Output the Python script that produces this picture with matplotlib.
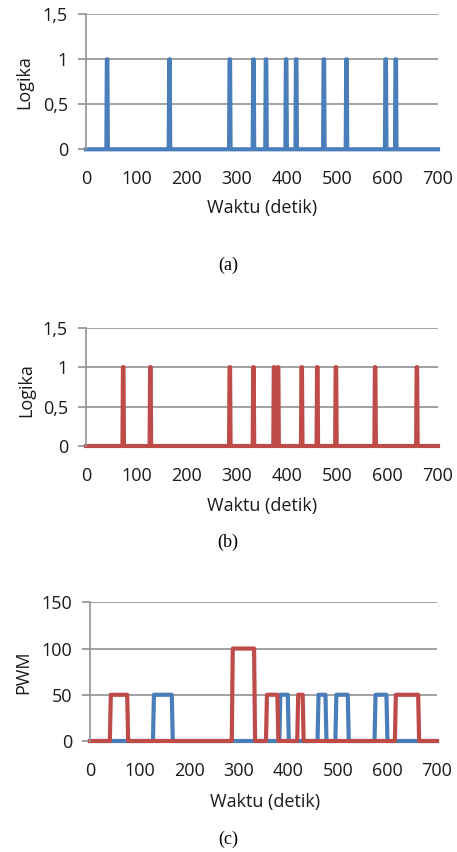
import matplotlib
matplotlib.use("Agg")
import matplotlib.pyplot as plt
from matplotlib.ticker import FuncFormatter

plt.rcParams['font.family'] = ['Open Sans', 'DejaVu Sans']

BLUE = '#4A7EBB'
RED = '#BE4B48'
GRID = '#9A9A9A'

# (a) times of the logic-1 pulses, (b) likewise
a_spikes = [42, 166, 286, 333, 358, 398, 418, 473, 518, 596, 616]
b_spikes = [74, 128, 286, 333, 374, 382, 429, 460, 497, 575, 658]

# (c) PWM pulses: start, end, level
red_on = [40, 286, 355, 418, 615]
red_off = [75, 331, 378, 429, 662]
red_level = [50, 100, 50, 50, 50]
blue_on = [127, 382, 459, 495, 574]
blue_off = [165, 399, 475, 520, 598]
blue_level = [50, 50, 50, 50, 50]

t_end = 700
x_ticks = [0, 100, 200, 300, 400, 500, 600, 700]
logic_ticks = [0, 0.5, 1, 1.5]
pwm_ticks = [0, 50, 100, 150]

FS = 13


def pulses(ons, offs, levels, ramp):
    xs, ys = [0], [0]
    for a, b, lv in zip(ons, offs, levels):
        xs += [a, a + ramp, b, b + ramp]
        ys += [0, lv, lv, 0]
    xs.append(t_end)
    ys.append(0)
    return xs, ys


W, H = 457, 852
fig = plt.figure(figsize=(W / 100, H / 100), dpi=100)


def axes_px(left, right, top, bottom):
    return fig.add_axes([left / W, 1 - bottom / H, (right - left) / W, (bottom - top) / H])


def style(ax, yticks, fmt):
    ax.set_xlim(0, t_end)
    ax.set_ylim(yticks[0], yticks[-1])
    ax.set_xticks(x_ticks)
    ax.set_yticks(yticks)
    ax.yaxis.set_major_formatter(FuncFormatter(fmt))
    for s in ['top', 'right', 'bottom']:
        ax.spines[s].set_visible(False)
    ax.spines['left'].set_color(GRID)
    ax.spines['left'].set_linewidth(1.3)
    ax.grid(axis='y', color=GRID, lw=1.3)
    ax.set_axisbelow(True)
    ax.tick_params(axis='y', length=6, width=1.3, color=GRID, pad=7, labelsize=FS)
    ax.tick_params(axis='x', length=0, pad=15, labelsize=FS)
    for lab in ax.get_xticklabels() + ax.get_yticklabels():
        lab.set_color('#1a1a1a')


def logic_fmt(v, pos):
    return ('%g' % v).replace('.', ',')


def pwm_fmt(v, pos):
    return '%d' % v


def ftext(x, y, s, **kw):
    fig.text(x / W, 1 - y / H, s, ha='center', va='center', **kw)


# (a)
ax1 = axes_px(86, 438, 14.3, 149.3)
xs, ys = pulses([t - 1.5 for t in a_spikes], [t + 0.5 for t in a_spikes], [1] * len(a_spikes), 1)
ax1.plot(xs, ys, color=BLUE, lw=3, solid_joinstyle='round', clip_on=False)
style(ax1, logic_ticks, logic_fmt)
ftext(24, 82, 'Logika', fontsize=FS, rotation=90, color='#1a1a1a')
ftext(262, 208, 'Waktu (detik)', fontsize=FS, color='#1a1a1a')
ftext(228, 265, '(a)', fontsize=13, family='Liberation Serif')

# (b)
ax2 = axes_px(86, 438, 327.7, 446)
xs, ys = pulses([t - 1.5 for t in b_spikes], [t + 0.5 for t in b_spikes], [1] * len(b_spikes), 1)
ax2.plot(xs, ys, color=RED, lw=3, solid_joinstyle='round', clip_on=False)
style(ax2, logic_ticks, logic_fmt)
ftext(26, 390, 'Logika', fontsize=FS, rotation=90, color='#1a1a1a')
ftext(262, 506, 'Waktu (detik)', fontsize=FS, color='#1a1a1a')
ftext(228, 542, '(b)', fontsize=13, family='Liberation Serif')

# (c)
ax3 = axes_px(90, 437, 602.3, 741)
xs, ys = pulses(blue_on, blue_off, blue_level, 2)
ax3.plot(xs, ys, color=BLUE, lw=3, solid_joinstyle='round', clip_on=False)
xs, ys = pulses(red_on, red_off, red_level, 2)
ax3.plot(xs, ys, color=RED, lw=3, solid_joinstyle='round', clip_on=False)
style(ax3, pwm_ticks, pwm_fmt)
ftext(23, 672, 'PWM', fontsize=FS, rotation=90, color='#1a1a1a')
ftext(265, 802, 'Waktu (detik)', fontsize=FS, color='#1a1a1a')
ftext(228, 839, '(c)', fontsize=13, family='Liberation Serif')

fig.savefig('out.png', dpi=100)
